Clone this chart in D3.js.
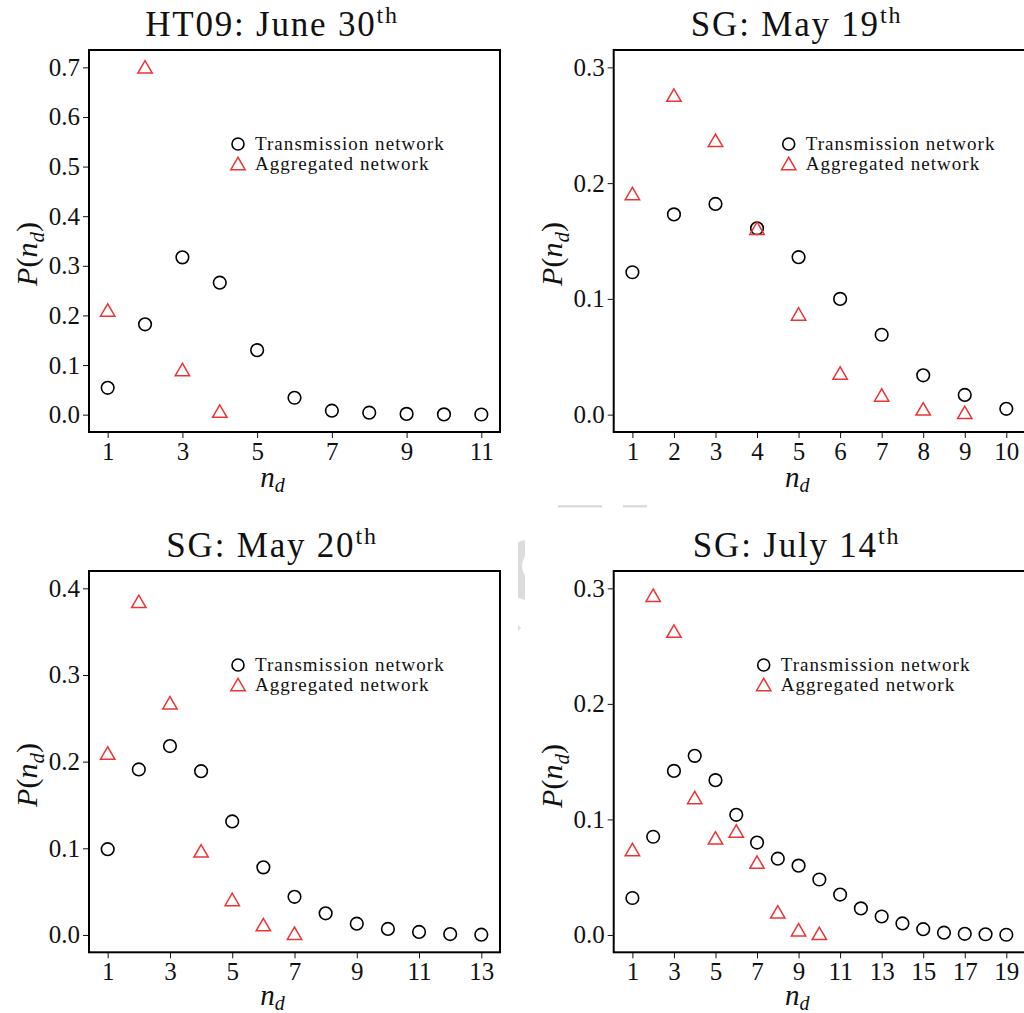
<!DOCTYPE html>
<html><head><meta charset="utf-8">
<script src="https://cdn.jsdelivr.net/npm/d3@7"></script>
<style>
html,body{margin:0;padding:0;background:#fff;overflow:hidden;}
svg text{font-family:"Liberation Serif","DejaVu Serif",serif;fill:#111;}
</style></head>
<body>
<svg id="chart" width="1024" height="1013"></svg>
<script>
// ---------- data ----------
const titles = ["HT09: June 30", "SG: May 19", "SG: May 20", "SG: July 14"];
const legendLabels = ["Transmission network", "Aggregated network"];

const ht09Trans = [0.054, 0.182, 0.317, 0.266, 0.130, 0.034, 0.008, 0.004, 0.0015, 0.0005, 0.0003];
const ht09Aggr  = [0.211, 0.701, 0.091, 0.007];

const may19Trans = [0.123, 0.173, 0.182, 0.161, 0.136, 0.100, 0.069, 0.034, 0.017, 0.005];
const may19Aggr  = [0.191, 0.276, 0.237, 0.161, 0.087, 0.036, 0.017, 0.005, 0.002];

const may20Trans = [0.099, 0.191, 0.218, 0.189, 0.131, 0.078, 0.044, 0.025, 0.013, 0.007, 0.0035, 0.001, 0.0003];
const may20Aggr  = [0.210, 0.385, 0.268, 0.097, 0.041, 0.012, 0.002];

const jul14Trans = [0.032, 0.085, 0.142, 0.155, 0.134, 0.104, 0.080, 0.066, 0.060, 0.048, 0.035, 0.023, 0.016, 0.010, 0.005, 0.002, 0.001, 0.0006, 0.0002];
const jul14Aggr  = [0.074, 0.294, 0.263, 0.119, 0.084, 0.090, 0.063, 0.020, 0.0045, 0.0014];

const xTicks = [[1,3,5,7,9,11],[1,2,3,4,5,6,7,8,9,10],[1,3,5,7,9,11,13],[1,3,5,7,9,11,13,15,17,19]];
const yTicks = [[0,0.1,0.2,0.3,0.4,0.5,0.6,0.7],[0,0.1,0.2,0.3],[0,0.1,0.2,0.3,0.4],[0,0.1,0.2,0.3]];
const yMax = [0.7, 0.3, 0.4, 0.3];

const seriesTrans = [ht09Trans, may19Trans, may20Trans, jul14Trans];
const seriesAggr  = [ht09Aggr, may19Aggr, may20Aggr, jul14Aggr];

// ---------- layout ----------
const layout = [
  {l:89,    r:500,  t:50,  b:432,   tx:272,   ty:36,  xl:487,  yl:[37,254],  lg:[238,144]},
  {l:613.7, r:1025, t:50,  b:432,   tx:796.5, ty:36,  xl:487,  yl:[562,254], lg:[788.7,144]},
  {l:89,    r:500,  t:571, b:952.3, tx:272,   ty:557, xl:1005, yl:[37,775],  lg:[238,665]},
  {l:613.7, r:1025, t:571, b:952.3, tx:796.5, ty:557, xl:1005, yl:[562,776], lg:[763.7,665]}
];
const RED = "#ec3434";

const svg = d3.select("#chart");

// faint artifacts in the reference
const art = svg.append("g").attr("fill","#dcdcdc");
art.append("rect").attr("x",558).attr("y",505).attr("width",44).attr("height",2.5);
art.append("rect").attr("x",623).attr("y",505).attr("width",24).attr("height",2.5);
art.append("path").attr("d","M518,542 L525,540 L525,556 Q519,566 525,576 L525,600 L518,598 Z");
art.append("path").attr("d","M518,625 L521,628 L518,631 Z");

function triPath(hw, hh){ return `M0,${-hh} L${-hw},${hh} L${hw},${hh} Z`; }

layout.forEach((L, i) => {
  const trans = seriesTrans[i], aggr = seriesAggr[i];
  const n = Math.max(trans.length, aggr.length);
  const xPad = (n - 1) * 0.05, yPad = yMax[i] * 0.05;
  const x = d3.scaleLinear().domain([1 - xPad, n + xPad]).range([L.l, L.r]);
  const y = d3.scaleLinear().domain([-yPad, yMax[i] + yPad]).range([L.b, L.t]);
  const g = svg.append("g");

  // axes
  const ax = g.append("g").attr("transform", `translate(0,${L.b})`)
    .call(d3.axisBottom(x).tickValues(xTicks[i]).tickSize(6).tickPadding(4).tickFormat(d3.format("d")));
  const ay = g.append("g").attr("transform", `translate(${L.l},0)`)
    .call(d3.axisLeft(y).tickValues(yTicks[i]).tickSize(6).tickPadding(3).tickFormat(d3.format(".1f")));
  [ax, ay].forEach(a => {
    a.select(".domain").remove();
    a.selectAll("line").attr("stroke","#111").attr("stroke-width",1);
    a.selectAll("text").attr("font-size",25).attr("font-family",'"Liberation Serif",serif').attr("fill","#111");
  });

  // frame
  g.append("rect").attr("x",L.l).attr("y",L.t).attr("width",L.r-L.l).attr("height",L.b-L.t)
    .attr("fill","none").attr("stroke","#000").attr("stroke-width",2);

  // title with superscript
  const tt = g.append("text").attr("x",L.tx).attr("y",L.ty).attr("text-anchor","middle")
    .attr("font-size",35).attr("letter-spacing",1.8);
  tt.append("tspan").text(titles[i]);
  tt.append("tspan").attr("font-size",24).attr("dy",-13).text("th");

  // x label
  const xt = g.append("text").attr("x",(L.l+L.r)/2-22).attr("y",L.xl).attr("text-anchor","middle")
    .attr("font-size",29).attr("font-style","italic");
  xt.append("tspan").text("n");
  xt.append("tspan").attr("font-size",20).attr("dy",5).text("d");

  // y label
  const yt = g.append("text").attr("transform",`translate(${L.yl[0]},${L.yl[1]}) rotate(-90)`)
    .attr("text-anchor","middle").attr("font-size",30);
  yt.append("tspan").attr("font-style","italic").text("P");
  yt.append("tspan").text("(");
  yt.append("tspan").attr("font-style","italic").text("n");
  yt.append("tspan").attr("font-style","italic").attr("font-size",21).attr("dy",7).text("d");
  yt.append("tspan").attr("dy",-7).text(")");

  // points
  g.append("g").selectAll("circle").data(trans).join("circle")
    .attr("cx",(d,j)=>x(j+1)).attr("cy",d=>y(d)).attr("r",6.3)
    .attr("fill","none").attr("stroke","#000").attr("stroke-width",1.6);
  g.append("g").selectAll("path").data(aggr).join("path")
    .attr("transform",(d,j)=>`translate(${x(j+1)},${y(d)})`)
    .attr("d",triPath(7.2,6.2))
    .attr("fill","none").attr("stroke",RED).attr("stroke-width",1.5);

  // legend
  const lg = g.append("g").attr("transform",`translate(${L.lg[0]},${L.lg[1]})`);
  lg.append("circle").attr("r",6).attr("fill","none").attr("stroke","#000").attr("stroke-width",1.6);
  lg.append("path").attr("transform","translate(0,19.5)").attr("d",triPath(7.2,6.2))
    .attr("fill","none").attr("stroke",RED).attr("stroke-width",1.5);
  lg.selectAll("text.lt").data(legendLabels).join("text").attr("class","lt")
    .attr("x",17).attr("y",(d,j)=>6+j*19.5).attr("font-size",19).attr("letter-spacing",1.05)
    .attr("fill","#222").text(d=>d);
});
</script>
</body></html>
